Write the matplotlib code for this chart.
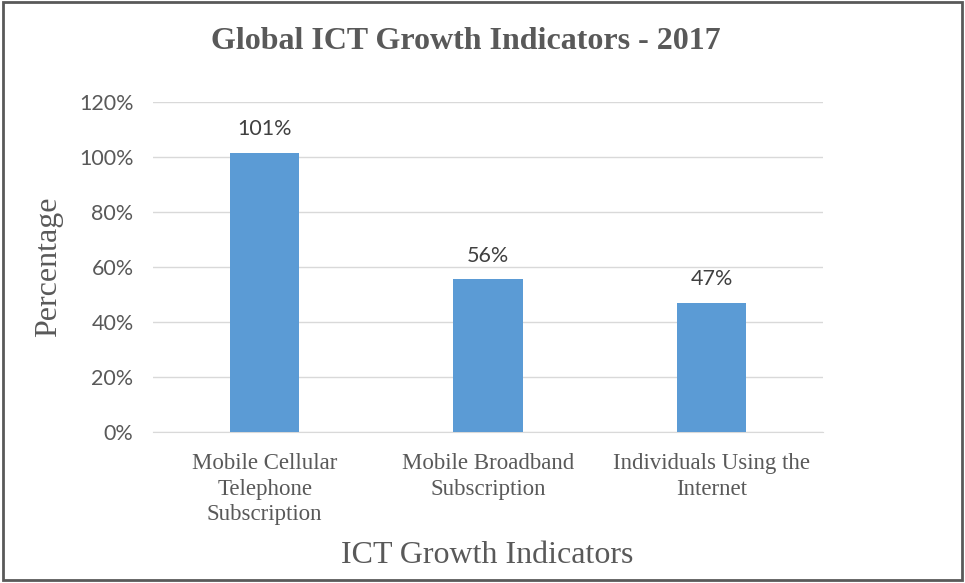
import matplotlib.pyplot as plt
from matplotlib.patches import Rectangle
from matplotlib.ticker import FuncFormatter

categories = ["Mobile Cellular\nTelephone\nSubscription",
              "Mobile Broadband\nSubscription",
              "Individuals Using the\nInternet"]
values = [101.5, 55.5, 47]
value_labels = ["101%", "56%", "47%"]
y_ticks = [0, 20, 40, 60, 80, 100, 120]

SERIF = "Liberation Serif"
SANS = "Lato"
TEXT = "#595959"


def plot_indicators():
    """Bar chart of ICT growth indicators"""
    fig = plt.figure(figsize=(9.65, 5.83), dpi=100)
    ax = fig.add_axes([0.1585, 0.259, 0.6945, 0.566])

    x = list(range(len(categories)))
    ax.bar(x, values, width=0.31, color="#5B9BD5", zorder=3)
    for xi, v, lab in zip(x, values, value_labels):
        ax.text(xi, v + 5, lab, ha="center", va="bottom", fontsize=15.5,
                family=SANS, color="#404040")

    ax.set_xlim(-0.5, len(categories) - 0.5)
    ax.set_ylim(0, 120)
    ax.set_yticks(y_ticks)
    ax.yaxis.set_major_formatter(FuncFormatter(lambda v, p: f"{v:.0f}%"))
    ax.set_xticks(x)
    ax.set_xticklabels(categories, family=SERIF, fontsize=16.5, color=TEXT,
                       linespacing=1.3)
    for lab in ax.get_yticklabels():
        lab.set_family(SANS)
        lab.set_fontsize(15.5)
        lab.set_color(TEXT)

    ax.grid(axis="y", color="#d9d9d9", linewidth=1, zorder=0)
    for side in ["top", "right", "left"]:
        ax.spines[side].set_visible(False)
    ax.spines["bottom"].set_color("#d9d9d9")
    ax.tick_params(axis="both", length=0)
    ax.tick_params(axis="x", pad=15)
    ax.tick_params(axis="y", pad=14)

    # titles
    fig.text(0.483, 0.928, "Global ICT Growth Indicators - 2017", ha="center",
             va="center", family=SERIF, fontsize=23, fontweight="bold",
             color=TEXT)
    ax.set_ylabel("Percentage", family=SERIF, fontsize=23, color=TEXT)
    ax.yaxis.set_label_coords(-0.134, 0.5)
    fig.text(0.505, 0.047, "ICT Growth Indicators", ha="center", va="center",
             family=SERIF, fontsize=23, color=TEXT)

    # chart border
    fig.patches.append(Rectangle((0.003, 0.006), 0.994, 0.99,
                                 transform=fig.transFigure, fill=False,
                                 edgecolor="#595959", linewidth=2))

    plt.savefig("out.png", dpi=100)


plot_indicators()
